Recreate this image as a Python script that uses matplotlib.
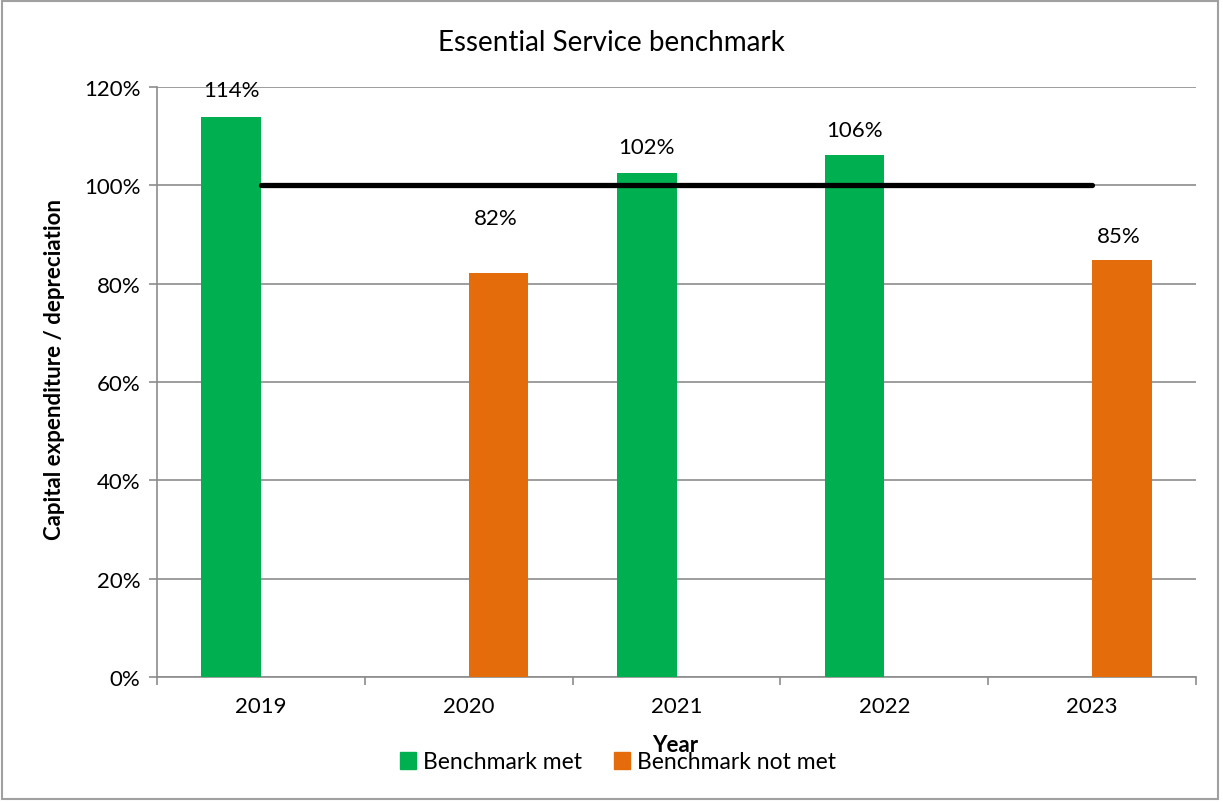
import matplotlib
matplotlib.use("Agg")
import matplotlib.pyplot as plt
from matplotlib.patches import Rectangle
import numpy as np

plt.rcParams['font.family'] = ['Lato', 'DejaVu Sans']

years = ["2019", "2020", "2021", "2022", "2023"]
met = [114, None, 102.5, 106.2, None]
not_met = [None, 82.1, None, None, 84.8]
benchmark = [100, 100, 100, 100, 100]
value_labels = ["114%", "82%", "102%", "106%", "85%"]
label_offset = [5.3, 11.2, 5.2, 5.0, 4.9]

GREEN = "#00B050"
ORANGE = "#E46C0A"
GRID = "#8C8C8C"

W, H = 1223, 803
fig = plt.figure(figsize=(W / 100, H / 100), dpi=100)
ax = fig.add_axes([0.1284, 0.1557, 0.978 - 0.1284, 0.8904 - 0.1557])

x = np.arange(len(years))
w = 0.287

for i in range(len(years)):
    if met[i] is not None:
        ax.bar(x[i] - w / 2, met[i], width=w, color=GREEN, zorder=3)
        ax.text(x[i] - w / 2, met[i] + label_offset[i], value_labels[i],
                ha="center", va="center", fontsize=16, zorder=5)
    if not_met[i] is not None:
        ax.bar(x[i] + w / 2, not_met[i], width=w, color=ORANGE, zorder=3)
        ax.text(x[i] + w / 2 - 0.015, not_met[i] + label_offset[i], value_labels[i],
                ha="center", va="center", fontsize=16, zorder=5)

ax.plot(x, benchmark, color="black", linewidth=3.8, solid_capstyle="round", zorder=4)

ax.set_xlim(-0.5, len(years) - 0.5)
ax.set_ylim(0, 120)
ax.set_yticks(np.arange(0, 121, 20))
ax.set_yticklabels([f"{v}%" for v in range(0, 121, 20)], fontsize=16)
ax.set_xticks(x)
ax.set_xticklabels(years, fontsize=16)
ax.set_xticks(np.arange(-0.5, len(years), 1), minor=True)
ax.tick_params(axis="x", which="major", length=0, pad=14)
ax.tick_params(axis="x", which="minor", length=6, color=GRID, width=1.2, direction="out")
ax.tick_params(axis="y", length=6, color=GRID, width=1.2, direction="out", pad=6)

ax.yaxis.grid(True, color=GRID, linewidth=1.2, zorder=0)
for s in ["top", "right"]:
    ax.spines[s].set_visible(False)
for s in ["left", "bottom"]:
    ax.spines[s].set_color(GRID)
    ax.spines[s].set_linewidth(1.2)

fig.text(0.5, 1 - 43 / H, "Essential Service benchmark", fontsize=20,
         ha="center", va="center")
fig.text(55 / W, 1 - 370 / H, "Capital expenditure / depreciation", fontsize=16,
         fontweight="bold", rotation=90, ha="center", va="center")
fig.text(675 / W, 1 - 746 / H, "Year", fontsize=16, fontweight="bold",
         ha="center", va="center", zorder=5)

handles = [Rectangle((0, 0), 1, 1, color=GREEN), Rectangle((0, 0), 1, 1, color=ORANGE)]
fig.legend(handles, ["Benchmark met", "Benchmark not met"], loc="center",
           bbox_to_anchor=(0.505, 1 - 763 / H), ncol=2, frameon=False, fontsize=16.5,
           handlelength=0.7, handleheight=0.7, handletextpad=0.3, columnspacing=1.4)

fig.add_artist(Rectangle((0.002, 0.004), 0.994, 0.993, transform=fig.transFigure,
                         fill=False, edgecolor="#A0A0A0", linewidth=1.5))

fig.savefig("out.png", dpi=100)
